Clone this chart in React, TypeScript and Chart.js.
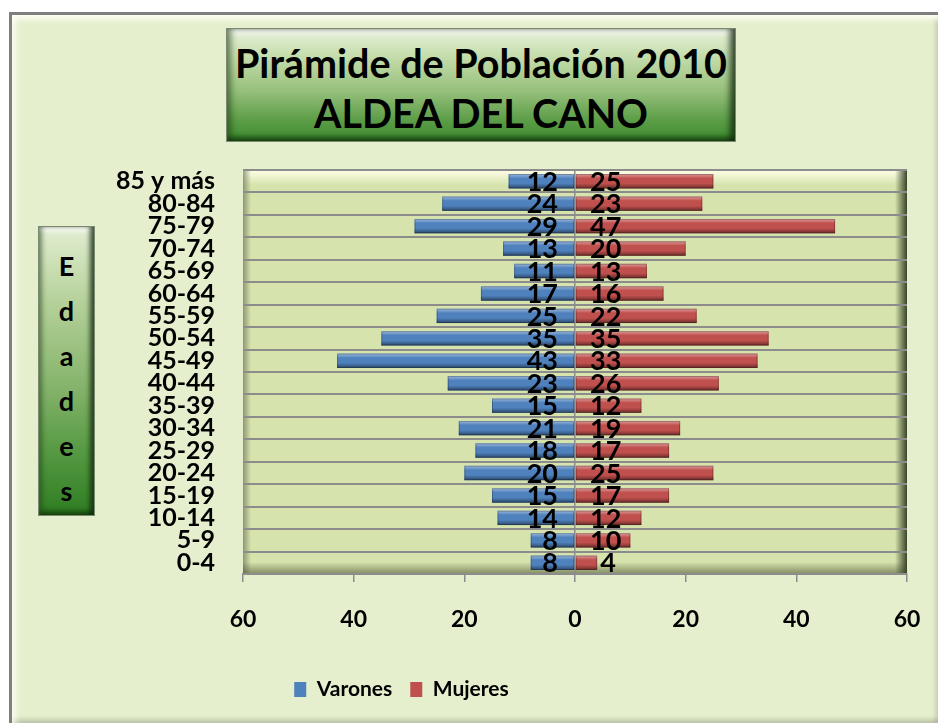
import React, { useEffect, useRef } from 'react';
import { Chart, registerables } from 'chart.js';

Chart.register(...registerables);

const FONT = 'Lato, "Open Sans", "DejaVu Sans", sans-serif';

// Age groups from youngest (bottom) to oldest (top)
const ageGroups = ['0-4', '5-9', '10-14', '15-19', '20-24', '25-29', '30-34', '35-39', '40-44', '45-49', '50-54', '55-59', '60-64', '65-69', '70-74', '75-79', '80-84', '85 y más'];
const varones = [8, 8, 14, 15, 20, 18, 21, 15, 23, 43, 35, 25, 17, 11, 13, 29, 24, 12];
const mujeres = [4, 10, 12, 17, 25, 17, 19, 12, 26, 33, 35, 22, 16, 13, 20, 47, 23, 25];
const seriesNames = ['Varones', 'Mujeres'];
const xMin = -60;
const xMax = 60;
const xStep = 20;
const titleLines = ['Pirámide de Población 2010', 'ALDEA DEL CANO'];
const yTitle = 'Edades';

export default function App() {
  const ref = useRef<HTMLCanvasElement>(null);

  useEffect(() => {
    const plotBackground = {
      id: 'plotBackground',
      beforeDraw(chart: any) {
        const { ctx, chartArea } = chart;
        const { left, top, right, bottom } = chartArea;
        ctx.save();
        ctx.fillStyle = '#d6e3ac';
        ctx.fillRect(left, top, right - left, bottom - top);
        let g = ctx.createLinearGradient(0, top, 0, top + 15);
        g.addColorStop(0, 'rgba(255,255,232,1)');
        g.addColorStop(1, 'rgba(255,255,232,0)');
        ctx.fillStyle = g;
        ctx.fillRect(left, top, right - left, 15);
        g = ctx.createLinearGradient(left, 0, left + 8, 0);
        g.addColorStop(0, 'rgba(110,120,90,0.7)');
        g.addColorStop(1, 'rgba(110,120,90,0)');
        ctx.fillStyle = g;
        ctx.fillRect(left, top, 8, bottom - top);
        g = ctx.createLinearGradient(right - 12, 0, right, 0);
        g.addColorStop(0, 'rgba(40,50,25,0)');
        g.addColorStop(1, 'rgba(40,50,25,0.9)');
        ctx.fillStyle = g;
        ctx.fillRect(right - 12, top, 12, bottom - top);
        g = ctx.createLinearGradient(0, bottom - 12, 0, bottom);
        g.addColorStop(0, 'rgba(60,70,40,0)');
        g.addColorStop(1, 'rgba(60,70,40,0.55)');
        ctx.fillStyle = g;
        ctx.fillRect(left, bottom - 12, right - left, 12);
        ctx.restore();
      },
    };

    const barDecor = {
      id: 'barDecor',
      afterLayout(chart: any) {
        if (chart.legend) {
          chart.legend.left -= 52;
          chart.legend.right -= 52;
        }
      },
      afterDatasetsDraw(chart: any) {
        const { ctx } = chart;
        const zero = chart.scales.x.getPixelForValue(0);
        ctx.save();
        chart.data.datasets.forEach((ds: any, di: number) => {
          const meta = chart.getDatasetMeta(di);
          meta.data.forEach((el: any) => {
            const h = el.height;
            const t = el.y - h / 2;
            const l = Math.min(el.x, el.base);
            const w = Math.abs(el.x - el.base);
            const g = ctx.createLinearGradient(0, t, 0, t + h);
            g.addColorStop(0, 'rgba(255,255,255,0.45)');
            g.addColorStop(0.3, 'rgba(255,255,255,0)');
            g.addColorStop(0.65, 'rgba(0,0,0,0)');
            g.addColorStop(1, 'rgba(0,0,0,0.45)');
            ctx.fillStyle = g;
            ctx.fillRect(l, t, w, h);
            ctx.strokeStyle = 'rgba(0,0,0,0.25)';
            ctx.lineWidth = 1;
            ctx.strokeRect(l + 0.5, t + 0.5, w - 1, h - 1);
          });
        });
        ctx.font = `bold 27px ${FONT}`;
        ctx.fillStyle = '#000';
        ctx.textBaseline = 'middle';
        chart.data.datasets.forEach((ds: any, di: number) => {
          const meta = chart.getDatasetMeta(di);
          meta.data.forEach((el: any, i: number) => {
            const text = String(Math.abs(ds.data[i]));
            const tw = ctx.measureText(text).width;
            const len = Math.abs(el.x - el.base);
            let x: number;
            if (di === 0) {
              ctx.textAlign = 'right';
              x = tw + 17 > len ? el.x - 3 : zero - 17;
            } else {
              ctx.textAlign = 'left';
              x = tw + 15 > len ? el.x + 3 : zero + 15;
            }
            ctx.fillText(text, x, el.y + 1);
          });
        });
        ctx.restore();
      },
    };

    const chart = new Chart(ref.current as HTMLCanvasElement, {
      type: 'bar',
      data: {
        labels: ageGroups,
        datasets: [
          {
            label: seriesNames[0],
            data: varones.map((v) => -v),
            backgroundColor: '#4f81bd',
            borderWidth: 0,
            barPercentage: 0.64,
            categoryPercentage: 1,
          },
          {
            label: seriesNames[1],
            data: mujeres,
            backgroundColor: '#c0504d',
            borderWidth: 0,
            barPercentage: 0.64,
            categoryPercentage: 1,
          },
        ],
      },
      options: {
        indexAxis: 'y',
        responsive: false,
        animation: false,
        devicePixelRatio: 1,
        layout: { padding: { left: 0, right: 32, top: 170, bottom: 15 } },
        plugins: {
          title: { display: false },
          tooltip: { enabled: false },
          legend: {
            position: 'bottom',
            labels: {
              color: '#000',
              font: { family: FONT, size: 21, weight: 'bold' },
              boxWidth: 12,
              boxHeight: 15,
              padding: 18,
            },
          },
        },
        scales: {
          x: {
            stacked: true,
            min: xMin,
            max: xMax,
            afterFit(scale: any) {
              scale.height = 87;
              scale.paddingLeft = 0;
              scale.paddingRight = 0;
            },
            ticks: {
              stepSize: xStep,
              color: '#000',
              padding: 24,
              font: { family: FONT, size: 23, weight: 'bold' },
              callback: (v: any) => String(Math.abs(Number(v))),
            },
            grid: {
              color: (c: any) => (c.tick && c.tick.value === 0 ? '#8c8c8c' : 'rgba(0,0,0,0)'),
              tickColor: '#8c8c8c',
              tickLength: 8,
              lineWidth: 1.5,
            },
            border: { display: true, color: '#8c8c8c', width: 2 },
          },
          y: {
            stacked: true,
            reverse: true,
            afterFit(scale: any) {
              scale.width = 243;
            },
            ticks: {
              color: '#000',
              padding: 28,
              font: { family: FONT, size: 25, weight: 'bold' },
              autoSkip: false,
            },
            grid: {
              color: '#8c8c8c',
              lineWidth: 2,
              drawTicks: false,
              offset: true,
            },
            border: { display: false },
          },
        },
      },
      plugins: [plotBackground, barDecor],
    } as any);
    return () => chart.destroy();
  }, []);

  return (
    <div style={{ position: 'fixed', left: 0, top: 0, width: 939, height: 725, background: '#ffffff', overflow: 'hidden', fontFamily: FONT }}>
      <div
        style={{
          position: 'absolute',
          left: 9,
          top: 12,
          width: 929,
          height: 711,
          boxSizing: 'border-box',
          background: '#e5efcd',
          borderTop: '3px solid #7f7f7f',
          borderLeft: '3px solid #7f7f7f',
          boxShadow:
            'inset 0 7px 6px -3px rgba(255,255,245,1), inset 7px 0 6px -3px rgba(255,255,245,0.8), inset -5px 0 5px -3px rgba(0,0,0,0.18), inset 0 -6px 5px -3px rgba(0,0,0,0.22)',
        }}
      />
      <div
        style={{
          position: 'absolute',
          left: 226,
          top: 28,
          width: 510,
          height: 114,
          boxSizing: 'border-box',
          background: 'linear-gradient(to bottom, #e8f2da 0%, #c4dcab 25%, #97c07c 55%, #5f9f4a 80%, #3a8a2c 100%)',
          border: '1px solid #7a8a70',
          boxShadow:
            'inset 6px 0 6px -2px rgba(20,50,10,0.55), inset -7px 0 6px -2px rgba(10,30,5,0.75), inset 0 6px 5px -2px rgba(255,255,255,0.85), inset 0 -6px 5px -2px rgba(10,40,5,0.6)',
          textAlign: 'center',
          paddingTop: 9,
          fontWeight: 'bold',
          fontSize: 39.5,
          lineHeight: '50px',
          color: '#000',
          whiteSpace: 'nowrap',
        }}
      >
        <div>{titleLines[0]}</div>
        <div>{titleLines[1]}</div>
      </div>
      <div
        style={{
          position: 'absolute',
          left: 38,
          top: 226,
          width: 57,
          height: 290,
          boxSizing: 'border-box',
          background: 'linear-gradient(to bottom, #e2eed2 0%, #b7d29c 25%, #86b46c 55%, #52973f 80%, #2f7d22 100%)',
          border: '1px solid #7a8a70',
          boxShadow:
            'inset 5px 0 5px -2px rgba(20,50,10,0.5), inset -6px 0 5px -2px rgba(10,30,5,0.75), inset 0 6px 5px -2px rgba(255,255,255,0.85), inset 0 -6px 5px -2px rgba(10,40,5,0.6)',
          textAlign: 'center',
          paddingTop: 16,
          fontWeight: 'bold',
          fontSize: 27,
          lineHeight: '45px',
          color: '#000',
        }}
      >
        {yTitle.split('').map((ch, i) => (
          <div key={i}>{ch}</div>
        ))}
      </div>
      <canvas ref={ref} width={939} height={725} style={{ position: 'absolute', left: 0, top: 0, width: 939, height: 725 }} />
    </div>
  );
}
